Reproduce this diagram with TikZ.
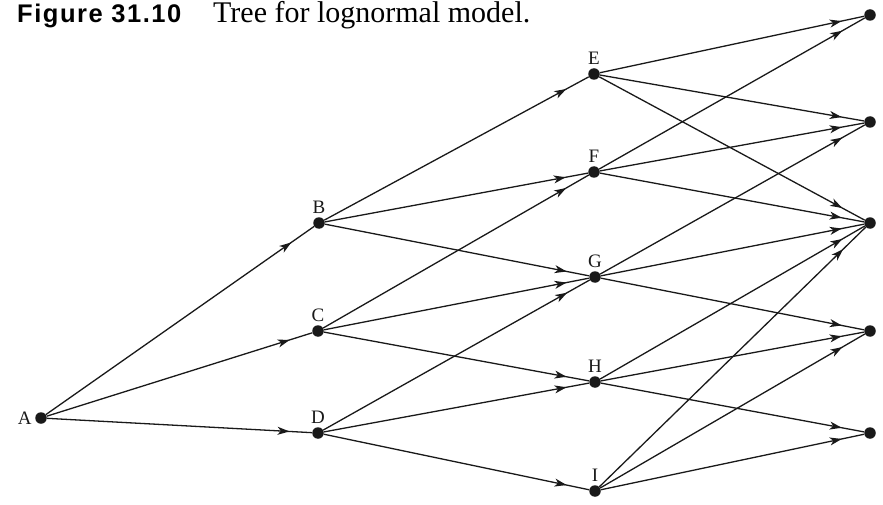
\documentclass[tikz,border=0pt]{standalone}
\usepackage{fontspec}
\setmainfont{Liberation Serif}
\newfontfamily\titlesans[LetterSpace=6]{Liberation Sans}
\usetikzlibrary{arrows.meta,decorations.markings}
\begin{document}
\begin{tikzpicture}[x=1pt,y=-1pt,
  dot/.style={circle,fill=black!90,inner sep=0pt,minimum size=11.5pt,
    label distance=0pt},
  every label/.style={font=\fontsize{19}{21}\selectfont,text=black!90},
  edge/.style={line width=1.3pt,black!90,postaction={decorate},
    decoration={markings,mark=at position 0.915 with
      {\arrow{Stealth[length=12pt,width=8pt,inset=3.4pt]}}}}]
\useasboundingbox (0,0) rectangle (883,505);
\node[anchor=base west,inner sep=0pt] (title) at (17,23)
  {\titlesans\bfseries\fontsize{25.5}{28}\selectfont Figure 31.10};
\node[anchor=base west,inner sep=0pt] (caption) at (213,23)
  {\fontsize{30}{32}\selectfont Tree for lognormal model.};
% nodes
\node[dot,label={left:A}] (A) at (41,418) {};
\node[dot,label={above:B}] (B) at (319,223) {};
\node[dot,label={above:C}] (C) at (318,331) {};
\node[dot,label={above:D}] (D) at (318,433) {};
\node[dot,label={above:E}] (E) at (594,74) {};
\node[dot,label={above:F}] (F) at (594,172) {};
\node[dot,label={above:G}] (G) at (595,277) {};
\node[dot,label={above:H}] (H) at (595,382) {};
\node[dot,label={above:I}] (I) at (595,491) {};
\node[dot] (r1) at (870,15) {};
\node[dot] (r2) at (870,122) {};
\node[dot] (r3) at (870,223) {};
\node[dot] (r4) at (870,331) {};
\node[dot] (r5) at (870,433) {};
% edges
\foreach \s/\t in {A/B,A/C,A/D,
  B/E,B/F,B/G, C/F,C/G,C/H, D/G,D/H,D/I,
  E/r1,E/r2,E/r3, F/r1,F/r2,F/r3, G/r2,G/r3,G/r4,
  H/r3,H/r4,H/r5, I/r3,I/r4,I/r5}
  \draw[edge] (\s) -- (\t);
\end{tikzpicture}
\end{document}
